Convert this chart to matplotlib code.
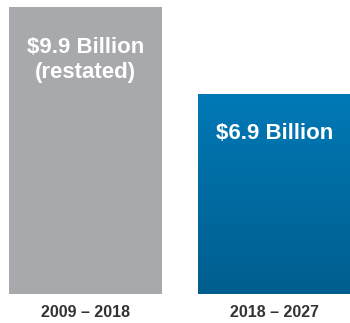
import numpy as np
import matplotlib
matplotlib.use("Agg")
import matplotlib.pyplot as plt
from matplotlib.colors import LinearSegmentedColormap

periods = ["2009 \u2013 2018", "2018 \u2013 2027"]
values = [9.9, 6.9]
value_labels = ["$9.9 Billion\n(restated)", "$6.9 Billion"]

plt.rcParams["font.family"] = ["Liberation Sans", "DejaVu Sans"]

fig = plt.figure(figsize=(3.5, 3.23), dpi=100)
ax = fig.add_axes([0, 29 / 323, 1, 287 / 323])

x = np.arange(len(values))
width = 0.81
bars = ax.bar(x, values, width=width, color=["#a8a9ac", "none"], linewidth=0)

# vertical gradient fill for the second bar
blue = LinearSegmentedColormap.from_list("blue", ["#005e8e", "#0079b6"])
b = bars[1]
grad = np.linspace(0, 1, 256).reshape(-1, 1)
im = ax.imshow(grad, cmap=blue, origin="lower", aspect="auto",
               extent=[b.get_x(), b.get_x() + b.get_width(), 0, b.get_height()],
               zorder=b.get_zorder() - 0.1)
im.set_clip_path(b)
ax.set_xlim(-0.452, 1.399)
ax.set_ylim(0, 9.9)

ax.text(x[0], values[0] - 1.83, value_labels[0], ha="center", va="center",
        color="white", fontsize=16, fontweight="bold", linespacing=1.3)
ax.text(x[1], values[1] - 1.35, value_labels[1], ha="center", va="center",
        color="white", fontsize=16, fontweight="bold")

ax.set_xticks(x)
ax.set_xticklabels(periods, fontsize=11.5, fontweight="bold", color="#333333")
ax.tick_params(axis="x", length=0, pad=8)
ax.set_yticks([])
for s in ax.spines.values():
    s.set_visible(False)

fig.savefig("out.png", dpi=100)
